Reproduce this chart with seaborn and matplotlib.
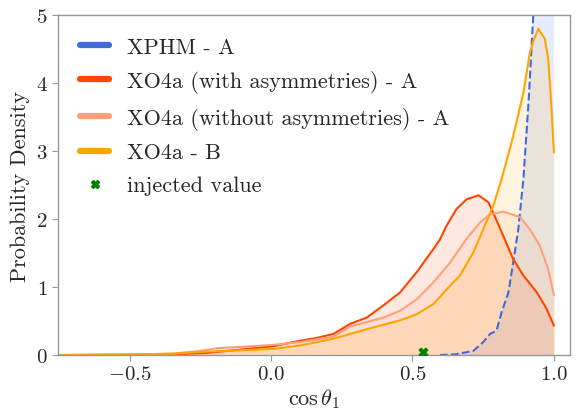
import matplotlib
matplotlib.use("Agg")
import matplotlib.pyplot as plt
import seaborn as sns
import pandas as pd
from matplotlib.lines import Line2D

sns.set_theme(style="white")
plt.rcParams["font.family"] = ["serif"]
plt.rcParams["font.serif"] = ["cmr10", "DejaVu Serif"]
plt.rcParams["mathtext.fontset"] = "cm"
plt.rcParams["axes.formatter.use_mathtext"] = True
plt.rcParams["axes.unicode_minus"] = True

# ---- data (cos theta_1, density) ----
xphm_x = [0.597, 0.65, 0.715, 0.75, 0.774, 0.797, 0.815, 0.839, 0.856, 0.874, 0.892,
          0.91, 0.927, 0.95, 0.975, 1.0]
xphm_y = [0.0, 0.01, 0.06, 0.19, 0.31, 0.36, 0.63, 0.92, 1.36, 1.85, 2.59,
          3.7, 5.0, 8.0, 11.0, 12.0]

asym_x = [-0.75, -0.5, -0.35, -0.23, -0.11, 0.008, 0.102, 0.16, 0.22, 0.28, 0.338, 0.397,
          0.456, 0.515, 0.574, 0.597, 0.62, 0.656, 0.691, 0.733, 0.768, 0.79, 0.82, 0.856,
          0.892, 0.94, 0.974, 1.0]
asym_y = [0.0, 0.003, 0.01, 0.03, 0.08, 0.13, 0.21, 0.25, 0.31, 0.46, 0.55, 0.73,
          0.92, 1.22, 1.56, 1.70, 1.90, 2.15, 2.29, 2.35, 2.25, 2.05, 1.76, 1.41,
          1.17, 0.92, 0.68, 0.43]

noasym_x = [-0.75, -0.5, -0.35, -0.27, -0.19, -0.11, 0.008, 0.102, 0.16, 0.22, 0.28, 0.397,
            0.456, 0.515, 0.574, 0.633, 0.691, 0.739, 0.774, 0.82, 0.88, 0.915, 0.95,
            0.98, 1.0]
noasym_y = [0.0, 0.005, 0.02, 0.05, 0.10, 0.12, 0.15, 0.19, 0.23, 0.27, 0.42, 0.55,
            0.65, 0.82, 1.07, 1.36, 1.71, 1.95, 2.07, 2.11, 2.03, 1.85, 1.61,
            1.26, 0.88]

b_x = [-0.75, -0.5, -0.35, -0.23, -0.11, 0.008, 0.102, 0.22, 0.338, 0.456, 0.515, 0.574,
       0.633, 0.668, 0.715, 0.75, 0.786, 0.815, 0.856, 0.892, 0.915, 0.927, 0.945, 0.968,
       0.98, 0.988, 1.0]
b_y = [0.0, 0.01, 0.02, 0.05, 0.07, 0.09, 0.14, 0.24, 0.38, 0.51, 0.60, 0.75,
       1.02, 1.17, 1.51, 1.85, 2.2, 2.59, 3.22, 3.86, 4.45, 4.62, 4.80, 4.65,
       4.35, 3.86, 2.98]

injected_x = [0.538]
injected_y = [0.045]

series = [
    ("XPHM - A", xphm_x, xphm_y, "royalblue", "--"),
    ("XO4a (with asymmetries) - A", asym_x, asym_y, "orangered", "-"),
    ("XO4a (without asymmetries) - A", noasym_x, noasym_y, "lightsalmon", "-"),
    ("XO4a - B", b_x, b_y, "orange", "-"),
]

fig = plt.figure(figsize=(5.76, 4.14), dpi=100)
ax = fig.add_axes([0.1007, 0.140, 0.889, 0.821])

handles = []
for label, xs, ys, col, ls in series:
    df = pd.DataFrame({"x": xs, "y": ys})
    sns.lineplot(data=df, x="x", y="y", ax=ax, color=col, lw=1.5, linestyle=ls,
                 sort=True, estimator=None)
    ax.fill_between(xs, ys, color=col, alpha=0.12, lw=0)
    handles.append(Line2D([0], [0], color=col, lw=4.5, label=label))

sns.scatterplot(x=injected_x, y=injected_y, ax=ax, marker="X", color="green", s=45,
                edgecolor="green", zorder=5)
handles.append(Line2D([0], [0], marker="X", color="green", lw=0, markersize=6,
                      label="injected value"))

ax.set_xlim(-0.753, 1.057)
ax.set_ylim(0, 5)
ax.set_xticks([-0.5, 0.0, 0.5, 1.0])
ax.set_yticks([0, 1, 2, 3, 4, 5])
ax.set_xlabel(r"$\cos\theta_1$", fontsize=16, labelpad=2)
ax.set_ylabel("Probability Density", fontsize=16, labelpad=4)
ax.tick_params(axis="both", labelsize=15, length=4, width=0.8, color="#999999",
               bottom=True, left=True, direction="out")
for sp in ax.spines.values():
    sp.set_color("#999999")
    sp.set_linewidth(1.0)

ax.legend(handles=handles, loc="upper left", frameon=False, fontsize=16,
          handlelength=1.3, handletextpad=0.8, borderaxespad=0.6, labelspacing=0.6)

fig.savefig("out.png", dpi=100)
